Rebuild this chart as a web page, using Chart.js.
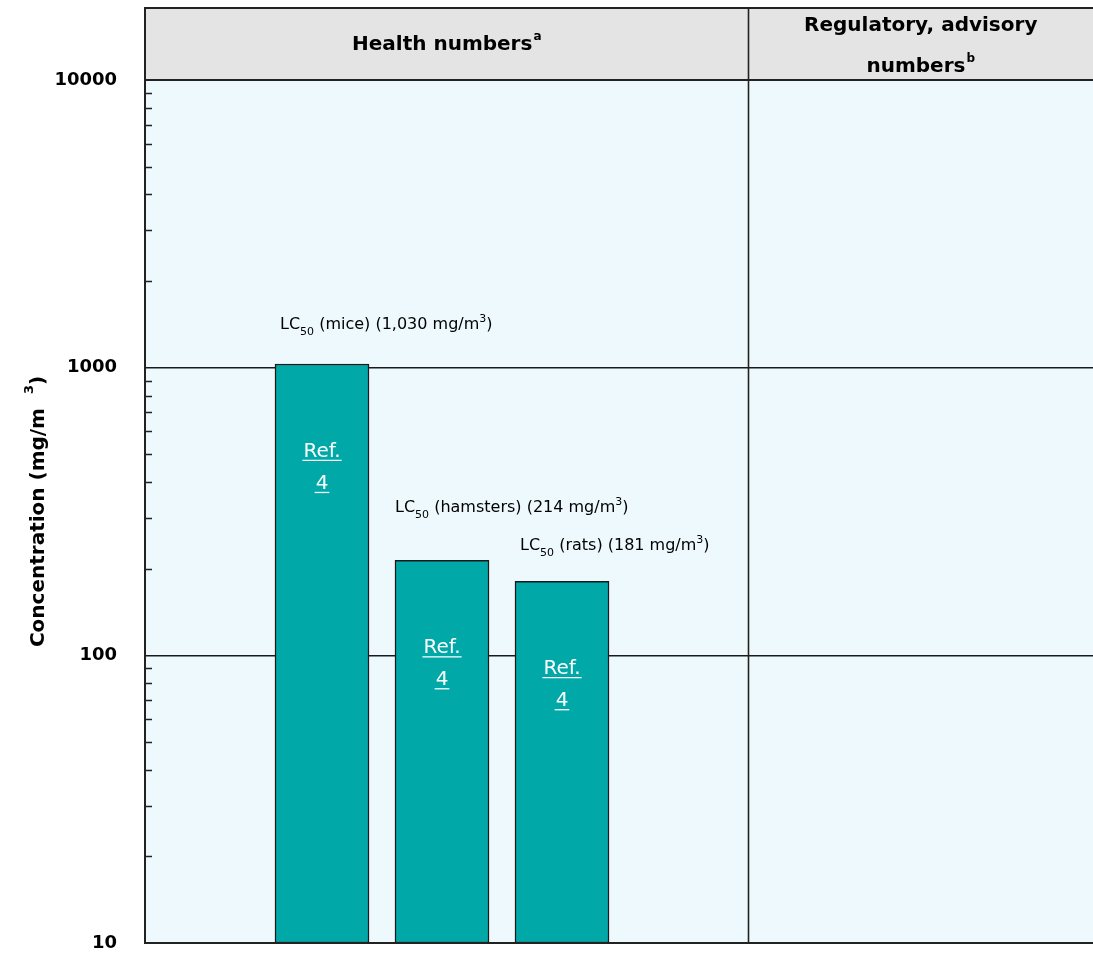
<!DOCTYPE html>
<html>
<head>
<meta charset="utf-8">
<script src="https://cdn.jsdelivr.net/npm/chart.js@4.4.1/dist/chart.umd.min.js"></script>
<style>
  html, body { margin: 0; padding: 0; background: #ffffff; }
  #wrap { width: 1093px; height: 954px; position: relative; }
</style>
</head>
<body>
<div id="wrap"><canvas id="chart" width="1093" height="954"></canvas></div>
<script>
// LC50 inhalation values (mg/m3) by test species
const species = ['mice', 'hamsters', 'rats'];
const positions = [1, 2, 3];
const concentrations = [1030, 214, 181];
const valueLabels = ['1,030', '214', '181'];
const references = ['4', '4', '4'];
const decadeTicks = [10, 100, 1000, 10000];
const sectionTitles = [['Health numbers'], ['Regulatory, advisory', 'numbers']];
const sectionNotes = ['a', 'b'];

const FONT = '"DejaVu Sans", Verdana, sans-serif';
const BAR_COLOR = '#00a8a8';
const PLOT_BG = '#eef9fd';
const HEADER_BG = '#e4e4e4';

// all 1..9 x 10^k values between 10 and 10000 for the log axis
function logTicks() {
  const out = [];
  for (let d = 10; d < 10000; d *= 10) {
    for (let m = 1; m < 10; m++) out.push({ value: m * d });
  }
  out.push({ value: 10000 });
  return out;
}
const isDecade = v => decadeTicks.includes(v);

// background, header band, section divider, minor ticks, titles
const framePlugin = {
  id: 'frame',
  beforeDraw(chart) {
    const { ctx, chartArea: a } = chart;
    ctx.save();
    ctx.fillStyle = PLOT_BG;
    ctx.fillRect(a.left, a.top, a.right - a.left, a.bottom - a.top);
    ctx.restore();
  },
  afterDraw(chart) {
    const { ctx, chartArea: a, scales } = chart;
    const x = scales.x, y = scales.y;
    const headTop = 8;
    const divX = Math.round(x.getPixelForValue(4.55)) + 0.5;
    ctx.save();
    // header band
    ctx.fillStyle = HEADER_BG;
    ctx.fillRect(a.left, headTop, a.right - a.left, a.top - headTop);
    ctx.strokeStyle = '#222';
    ctx.lineWidth = 2;
    ctx.beginPath();
    ctx.moveTo(a.left, a.top);
    ctx.lineTo(a.left, headTop);
    ctx.lineTo(a.right, headTop);
    ctx.moveTo(a.left, a.top);
    ctx.lineTo(a.right, a.top);
    ctx.stroke();
    // divider between sections
    ctx.lineWidth = 1.6;
    ctx.beginPath();
    ctx.moveTo(divX, headTop);
    ctx.lineTo(divX, a.bottom);
    ctx.stroke();
    // minor tick marks inside the plot
    ctx.lineWidth = 1.5;
    ctx.beginPath();
    y.ticks.forEach(t => {
      if (isDecade(t.value)) return;
      const py = Math.round(y.getPixelForValue(t.value)) + 0.5;
      ctx.moveTo(a.left, py);
      ctx.lineTo(a.left + 7, py);
    });
    ctx.stroke();
    // left axis line and bottom line
    ctx.lineWidth = 2;
    ctx.beginPath();
    ctx.moveTo(a.left, a.top);
    ctx.lineTo(a.left, a.bottom);
    ctx.lineTo(a.right, a.bottom);
    ctx.stroke();

    // section titles
    ctx.fillStyle = '#000';
    ctx.textBaseline = 'alphabetic';
    ctx.textAlign = 'left';
    const centers = [(a.left + divX) / 2, (divX + a.right) / 2];
    const head = 'bold 20px ' + FONT, note = 'bold 12px ' + FONT;
    sectionTitles.forEach((lines, i) => {
      const cx = centers[i];
      const n = lines.length;
      lines.forEach((line, j) => {
        const base = n === 1 ? 50 : 31 + j * 41;
        ctx.font = head;
        const w = ctx.measureText(line).width;
        const last = j === n - 1;
        ctx.font = note;
        const sw = last ? ctx.measureText(sectionNotes[i]).width + 1 : 0;
        const start = cx - (w + sw) / 2;
        ctx.font = head;
        ctx.fillText(line, start, base);
        if (last) {
          ctx.font = note;
          ctx.fillText(sectionNotes[i], start + w + 1, base - 10);
        }
      });
    });

    // y axis title
    ctx.save();
    ctx.translate(44, (a.top + a.bottom) / 2);
    ctx.rotate(-Math.PI / 2);
    const tf = 'bold 20px ' + FONT, sf = 'bold 13px ' + FONT;
    ctx.font = tf;
    const t1 = 'Concentration (mg/m  ';
    const w1 = ctx.measureText(t1).width;
    ctx.font = sf;
    const w2 = ctx.measureText('3').width;
    ctx.font = tf;
    const w3 = ctx.measureText(')').width;
    const sx = -(w1 + w2 + w3) / 2;
    ctx.fillText(t1, sx, 0);
    ctx.font = sf;
    ctx.fillText('3', sx + w1, -11);
    ctx.font = tf;
    ctx.fillText(')', sx + w1 + w2, 0);
    ctx.restore();
    ctx.restore();
  }
};

// value callouts above bars and reference links inside them
const labelPlugin = {
  id: 'barLabels',
  afterDatasetsDraw(chart, args, opts) {
    const { ctx } = chart;
    const meta = chart.getDatasetMeta(0);
    ctx.save();
    ctx.textBaseline = 'alphabetic';
    ctx.textAlign = 'left';
    meta.data.forEach((bar, i) => {
      const left = bar.x - bar.width / 2;
      // callout: LC50 (species) (value mg/m3)
      let x = left + opts.indent[i];
      const base = bar.y - opts.lift[i];
      ctx.fillStyle = '#000';
      const big = '16px ' + FONT, small = '11px ' + FONT;
      const parts = [
        ['LC', big, 0], ['50', small, 6],
        [' (' + species[i] + ') (' + valueLabels[i] + ' mg/m', big, 0],
        ['3', small, -7], [')', big, 0]
      ];
      parts.forEach(([txt, f, dy]) => {
        ctx.font = f;
        ctx.fillText(txt, x, base + dy);
        x += ctx.measureText(txt).width;
      });
      // reference link, white underlined, two lines
      ctx.fillStyle = '#ffffff';
      ctx.strokeStyle = '#ffffff';
      ctx.lineWidth = 1.3;
      ctx.font = '20px ' + FONT;
      ['Ref.', references[i]].forEach((txt, j) => {
        const by = bar.y + 93 + j * 32;
        const w = ctx.measureText(txt).width;
        ctx.fillText(txt, bar.x - w / 2, by);
        ctx.beginPath();
        ctx.moveTo(bar.x - w / 2 - 1, by + 3.5);
        ctx.lineTo(bar.x + w / 2 + 1, by + 3.5);
        ctx.stroke();
      });
    });
    ctx.restore();
  }
};

new Chart(document.getElementById('chart'), {
  type: 'bar',
  data: {
    datasets: [{
      data: positions.map((p, i) => ({ x: p, y: concentrations[i] })),
      backgroundColor: BAR_COLOR,
      borderColor: '#1a1a1a',
      borderWidth: 1.5,
      borderSkipped: false,
      barThickness: 94
    }]
  },
  options: {
    responsive: false,
    animation: false,
    layout: { padding: { top: 80, bottom: 11, left: 0, right: 0 } },
    plugins: {
      legend: { display: false },
      tooltip: { enabled: false },
      barLabels: { indent: [5, 0, 5], lift: [35, 48, 31] }
    },
    scales: {
      x: {
        type: 'linear',
        offset: false,
        min: -0.475,
        max: 7.425,
        display: false
      },
      y: {
        type: 'logarithmic',
        min: 10,
        max: 10000,
        afterBuildTicks: s => { s.ticks = logTicks(); },
        afterFit: s => { s.width = 145; s.paddingTop = 0; s.paddingBottom = 0; },
        border: { display: false },
        grid: {
          drawTicks: false,
          color: c => isDecade(c.tick.value) ? '#1a1a1a' : 'rgba(0,0,0,0)',
          lineWidth: 1.5
        },
        ticks: {
          autoSkip: false,
          padding: 28,
          color: '#000',
          font: { family: FONT, size: 18, weight: 'bold' },
          callback: v => isDecade(v) ? String(v) : ''
        }
      }
    }
  },
  plugins: [framePlugin, labelPlugin]
});
</script>
</body>
</html>
